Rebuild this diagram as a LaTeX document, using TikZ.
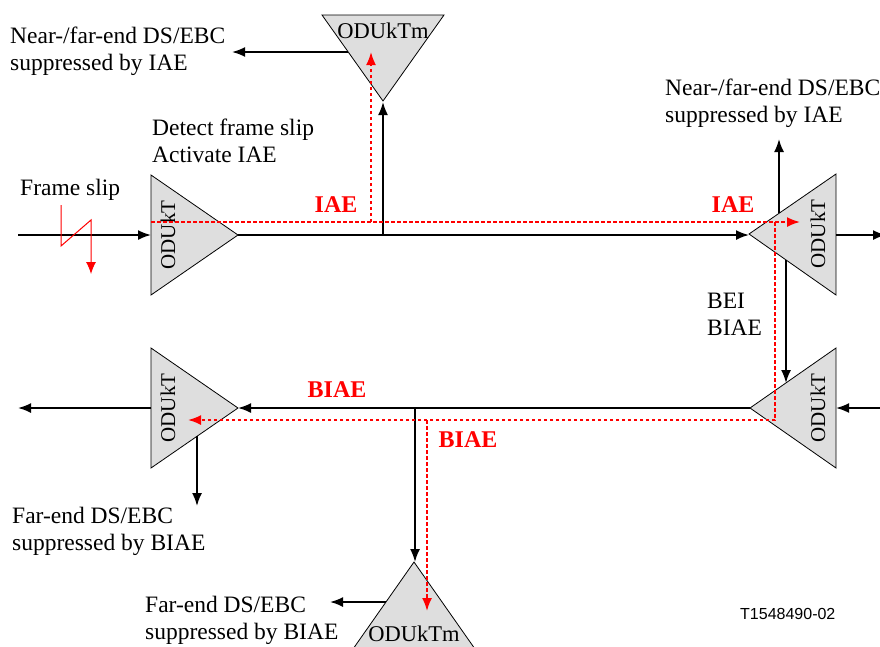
\documentclass[tikz,border=0pt]{standalone}
\usepackage{fontspec}
\setmainfont{Liberation Serif}
\newfontfamily\labelsans{Liberation Sans}
\usetikzlibrary{arrows.meta}
\tikzset{
  unit/.style={draw=black, line width=0.8pt, fill=black!13},
  flow/.style={line width=1.8pt, -{Latex[length=13pt,width=10pt]}},
  redflow/.style={red, line width=1.8pt, dash pattern=on 3.5pt off 2.5pt, -{Latex[length=13pt,width=10pt]}},
  note/.style={align=left, anchor=west, inner sep=0pt, font=\fontsize{23.5}{27}\selectfont},
  redlabel/.style={red, inner sep=0pt, font=\fontsize{24}{27}\selectfont\bfseries},
  unitlabel/.style={inner sep=0pt, font=\fontsize{21}{25}\selectfont}
}

\begin{document}
\begin{tikzpicture}[x=1pt, y=-1pt]
			%%%%% START %%%%%
			\useasboundingbox (0,0) rectangle (880,646);

			% triangles
			\draw[unit] (151,175) -- (151,295) -- (238,235) -- cycle;
			\draw[unit] (836,174) -- (836,295) -- (749,234) -- cycle;
			\draw[unit] (151,348) -- (151,468) -- (238,408) -- cycle;
			\draw[unit] (836,348) -- (836,468) -- (750,408) -- cycle;
			\draw[unit] (322,15) -- (444,15) -- (383,101) -- cycle;
			\draw[unit] (353,649) -- (475,649) -- (414,562) -- cycle;

			\node[unitlabel, rotate=90] (luT) at (168,235) {ODUkT};
			\node[unitlabel, rotate=90] (ruT) at (818,234) {ODUkT};
			\node[unitlabel, rotate=90] (llT) at (168,408) {ODUkT};
			\node[unitlabel, rotate=90] (rlT) at (818,408) {ODUkT};
			\node[unitlabel, font=\fontsize{22.5}{26}\selectfont] (topM) at (383,31) {ODUkTm};
			\node[unitlabel, font=\fontsize{22.5}{26}\selectfont] (botM) at (414,634) {ODUkTm};

			% connection points
			\coordinate (inU) at (18,235);
			\coordinate (luIn) at (151,235);
			\coordinate (luOut) at (238,235);
			\coordinate (ruIn) at (749,235);
			\coordinate (ruOut) at (836,235);
			\coordinate (outU) at (886,235);
			\coordinate (tapU) at (383,235);
			\coordinate (topIn) at (383,102);
			\coordinate (topOut) at (348,52);
			\coordinate (topEnd) at (232,52);
			\coordinate (ruUp) at (779,213);
			\coordinate (ruUpEnd) at (779,139);
			\coordinate (ruDown) at (786,260);
			\coordinate (rlIn) at (786,383);
			\coordinate (inL) at (886,408);
			\coordinate (rlOut) at (836,408);
			\coordinate (rlApex) at (750,408);
			\coordinate (llApex) at (238,408);
			\coordinate (llOut) at (151,408);
			\coordinate (outL) at (18,408);
			\coordinate (llDown) at (197,436);
			\coordinate (llDownEnd) at (197,506);
			\coordinate (tapL) at (415,408);
			\coordinate (botIn) at (415,562);
			\coordinate (botOut) at (386,602);
			\coordinate (botEnd) at (330,602);

			% signal flow
			\draw[flow] (inU) -- (luIn);
			\draw[flow] (luOut) -- (ruIn);
			\draw[flow] (tapU) -- (topIn);
			\draw[flow] (topOut) -- (topEnd);
			\draw[flow] (ruOut) -- (outU);
			\draw[flow] (ruUp) -- (ruUpEnd);
			\draw[flow] (ruDown) -- (rlIn);
			\draw[flow] (inL) -- (rlOut);
			\draw[flow] (rlApex) -- (llApex);
			\draw[flow] (llOut) -- (outL);
			\draw[flow] (llDown) -- (llDownEnd);
			\draw[flow] (tapL) -- (botIn);
			\draw[flow] (botOut) -- (botEnd);

			% IAE / BIAE paths
			\draw[redflow] (151,222) -- (800,222);
			\draw[redflow] (371,222) -- (371,52);
			\draw[redflow] (775,222) -- (775,420) -- (188,420);
			\draw[redflow] (427,420) -- (427,611);

			% frame slip
			\draw[red, line width=1pt, -{Latex[length=12pt,width=10pt]}] (61,205) -- (61,246) -- (91,220) -- (91,274);

			% labels
			\node[note] (nearL) at (10,51) {Near-/far-end DS/EBC\\suppressed by IAE};
			\node[note] (detect) at (152,141) {Detect frame slip\\Activate IAE};
			\node[note] (slip) at (20,190) {Frame slip};
			\node[note] (nearR) at (665,103) {Near-/far-end DS/EBC\\suppressed by IAE};
			\node[note] (bei) at (707,314) {BEI\\BIAE};
			\node[note] (farL) at (12,531) {Far-end DS/EBC\\suppressed by BIAE};
			\node[note] (farB) at (145,620) {Far-end DS/EBC\\suppressed by BIAE};
			\node[anchor=west, inner sep=0pt, font=\labelsans\fontsize{16}{18}\selectfont] (fig) at (740,614) {T1548490-02};

			\node[redlabel] (iaeL) at (336,205) {IAE};
			\node[redlabel] (iaeR) at (733,205) {IAE};
			\node[redlabel] (biaeL) at (337,390) {BIAE};
			\node[redlabel] (biaeB) at (468,440) {BIAE};
			%%%%% END %%%%%
\end{tikzpicture}
\end{document}
